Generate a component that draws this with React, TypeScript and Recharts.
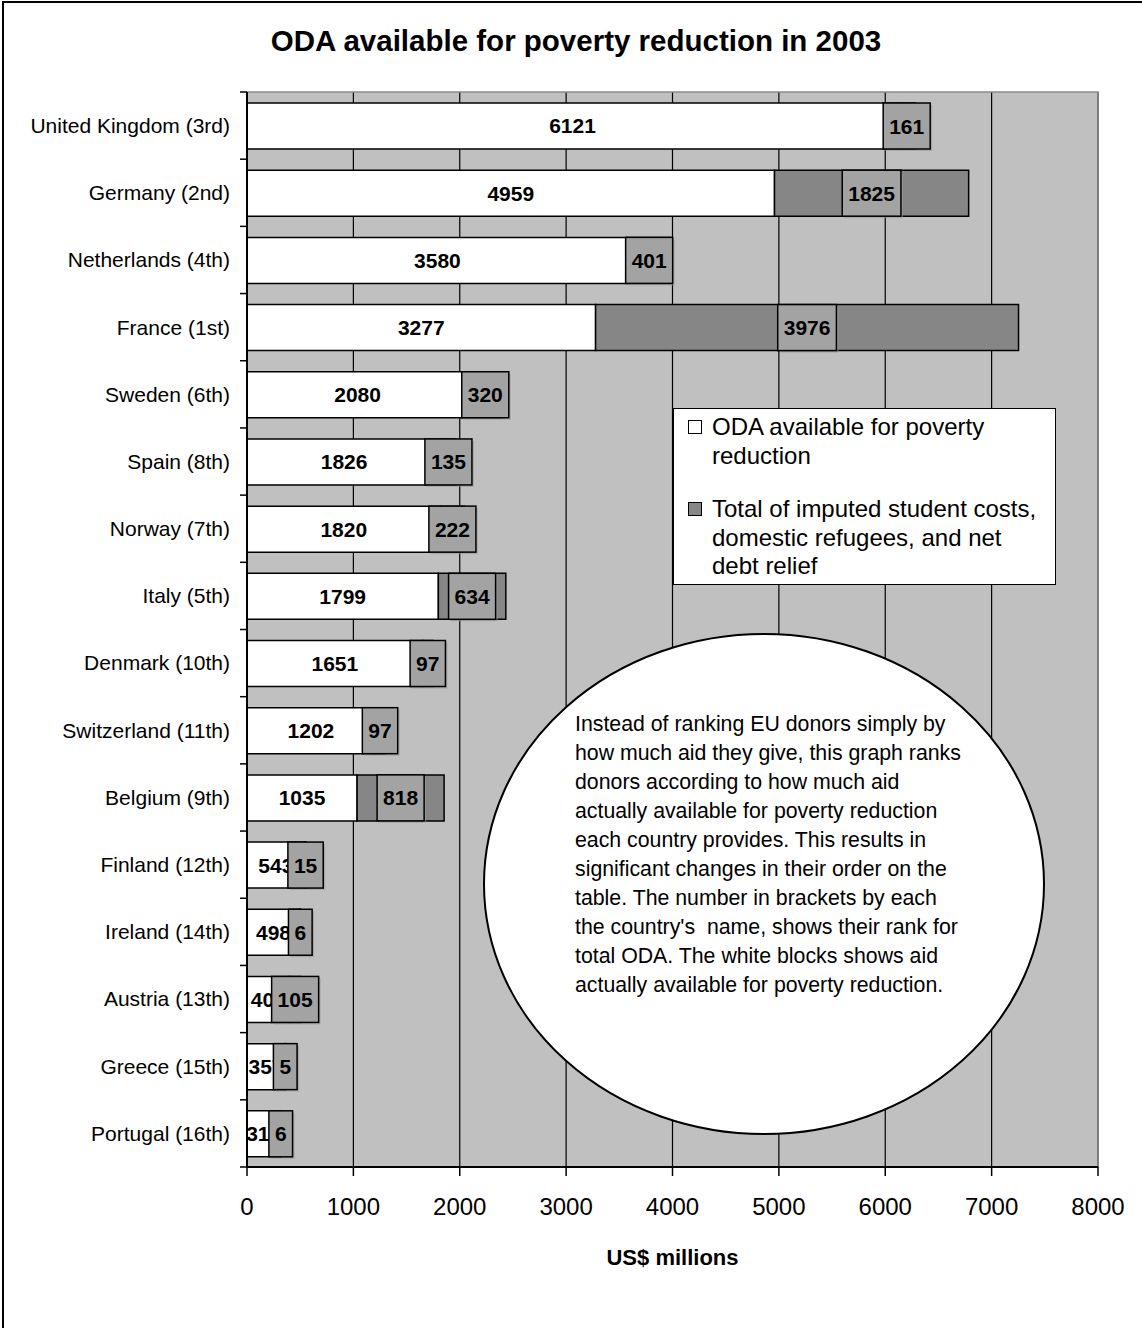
import React from 'react';
import { BarChart, Bar, XAxis, YAxis, CartesianGrid, LabelList, Legend, Customized } from 'recharts';

// donors, ordered by ODA actually available for poverty reduction (rank for total ODA in brackets)
const countries = [
  'United Kingdom (3rd)',
  'Germany (2nd)',
  'Netherlands (4th)',
  'France (1st)',
  'Sweden (6th)',
  'Spain (8th)',
  'Norway (7th)',
  'Italy (5th)',
  'Denmark (10th)',
  'Switzerland (11th)',
  'Belgium (9th)',
  'Finland (12th)',
  'Ireland (14th)',
  'Austria (13th)',
  'Greece (15th)',
  'Portugal (16th)',
];
const available = [6121, 4959, 3580, 3277, 2080, 1826, 1820, 1799, 1651, 1202, 1035, 543, 498, 400, 357, 314];
const inflated = [161, 1825, 401, 3976, 320, 135, 222, 634, 97, 97, 818, 15, 6, 105, 5, 6];
const xTicks = [0, 1000, 2000, 3000, 4000, 5000, 6000, 7000, 8000];

const seriesNames = [
  ['ODA available for poverty', 'reduction'],
  ['Total of imputed student costs,', 'domestic refugees, and net', 'debt relief'],
];

const noteLines = [
  'Instead of ranking EU donors simply by',
  'how much aid they give, this graph ranks',
  'donors according to how much aid',
  'actually available for poverty reduction',
  'each country provides. This results in',
  'significant changes in their order on the',
  'table. The number in brackets by each',
  "the country's  name, shows their rank for",
  'total ODA. The white blocks shows aid',
  'actually available for poverty reduction.',
];

const data = countries.map((c, i) => ({ country: c, available: available[i], other: inflated[i] }));

const W = 1142;
const H = 1328;
const PLOT_LEFT = 247;
const PLOT_RIGHT = 1098;
const PLOT_TOP = 92;
const PLOT_BOTTOM = 1167;
const BAND = (PLOT_BOTTOM - PLOT_TOP) / countries.length;
const FONT = '"Liberation Sans", Arial, sans-serif';
const GRAY = '#868686';
const BOX_GRAY = '#a3a3a3';

const CategoryTick = (props: any) => {
  const { x, y, payload, index } = props;
  const last = index === countries.length - 1;
  return (
    <g>
      <text x={x} y={y} dy="0.35em" textAnchor="end" fontSize={21} fill="#000" fontFamily={FONT}>
        {payload.value}
      </text>
      <line x1={PLOT_LEFT - 7} x2={PLOT_LEFT} y1={y - BAND / 2} y2={y - BAND / 2} stroke="#000" strokeWidth={1.5} />
      {last && (
        <line x1={PLOT_LEFT - 7} x2={PLOT_LEFT} y1={y + BAND / 2} y2={y + BAND / 2} stroke="#000" strokeWidth={1.5} />
      )}
    </g>
  );
};

// grey data labels sit in their own little boxes, wider than the small bars
const BoxLabel = (props: any) => {
  const vb = props.viewBox || props;
  const x = Number(vb.x);
  const y = Number(vb.y);
  const w = Number(vb.width);
  const h = Number(vb.height);
  const txt = String(props.value);
  const bw = txt.length * 0.556 * 21 + 12;
  const cx = x + w / 2;
  return (
    <g>
      <rect x={cx - bw / 2 + 2} y={y + 2} width={bw} height={h} fill="#9a9a9a" opacity={0.6} />
      <rect x={cx - bw / 2} y={y} width={bw} height={h} fill={BOX_GRAY} stroke="#000" strokeWidth={1.5} />
      <text
        x={cx}
        y={y + h / 2}
        dy="0.36em"
        textAnchor="middle"
        fontSize={21}
        fontWeight="bold"
        fill="#000"
        fontFamily={FONT}
      >
        {txt}
      </text>
    </g>
  );
};

const LegendBox = () => (
  <div
    style={{
      width: 383,
      height: 177,
      boxSizing: 'border-box',
      border: '1.5px solid #000',
      background: '#fff',
      fontFamily: FONT,
      fontSize: 24,
      lineHeight: '28.5px',
      color: '#000',
      paddingTop: 4,
    }}
  >
    {seriesNames.map((lines, i) => (
      <div key={i} style={{ position: 'relative', paddingLeft: 38, marginBottom: i === 0 ? 25 : 0 }}>
        <div
          style={{
            position: 'absolute',
            left: 14,
            top: 7,
            width: 12,
            height: 12,
            border: '1.5px solid #000',
            background: i === 0 ? '#fff' : GRAY,
          }}
        />
        {lines.map((l, j) => (
          <div key={j} style={{ whiteSpace: 'nowrap' }}>
            {l}
          </div>
        ))}
      </div>
    ))}
  </div>
);

const PlotFrame = () => (
  <rect
    x={PLOT_LEFT}
    y={PLOT_TOP}
    width={PLOT_RIGHT - PLOT_LEFT}
    height={PLOT_BOTTOM - PLOT_TOP}
    fill="none"
    stroke="#8a8a8a"
    strokeWidth={1.5}
  />
);

const Note = () => (
  <g>
    <text x={576} y={41} dy="0.35em" textAnchor="middle" fontSize={29.5} fontWeight="bold" fill="#000" fontFamily={FONT}>
      ODA available for poverty reduction in 2003
    </text>
    <ellipse cx={764} cy={884} rx={280} ry={250} fill="#fff" stroke="#000" strokeWidth={2} />
    <text x={575} y={724} fontSize={21.3} fill="#000" fontFamily={FONT}>
      {noteLines.map((l, i) => (
        <tspan key={i} x={575} y={724 + i * 29} dy="0.35em" style={{ whiteSpace: 'pre' }}>
          {l}
        </tspan>
      ))}
    </text>
  </g>
);

export default function App() {
  return (
    <div
      style={{
        position: 'absolute',
        left: 0,
        top: 0,
        width: W,
        height: H,
        background: '#fff',
        fontFamily: FONT,
        overflow: 'hidden',
      }}
    >
      <div
        style={{
          position: 'absolute',
          left: 2,
          top: 1,
          width: W,
          height: H + 10,
          borderTop: '2.5px solid #000',
          borderLeft: '2px solid #000',
          boxSizing: 'border-box',
        }}
      />
      <BarChart
        width={W}
        height={H}
        data={data}
        layout="vertical"
        margin={{ top: PLOT_TOP, right: W - PLOT_RIGHT, bottom: 61, left: 0 }}
        barSize={46}
      >
        <CartesianGrid horizontal={false} stroke="#000" strokeWidth={1.2} fill="#c0c0c0" fillOpacity={1} />
        <Customized component={PlotFrame} />
        <XAxis
          type="number"
          domain={[0, 8000]}
          ticks={xTicks}
          interval={0}
          height={100}
          tickSize={9}
          tickMargin={22}
          axisLine={{ stroke: '#000', strokeWidth: 2 }}
          tickLine={{ stroke: '#000', strokeWidth: 1.5 }}
          tick={{ fill: '#000', fontSize: 24, fontFamily: FONT }}
          label={{
            value: 'US$ millions',
            position: 'insideBottom',
            offset: 2,
            fill: '#000',
            fontSize: 22,
            fontWeight: 'bold',
            fontFamily: FONT,
          }}
        />
        <YAxis
          type="category"
          dataKey="country"
          width={PLOT_LEFT}
          interval={0}
          tickSize={6}
          tickMargin={11}
          tickLine={false}
          axisLine={{ stroke: '#000', strokeWidth: 2 }}
          tick={<CategoryTick />}
        />
        <Bar dataKey="available" stackId="oda" fill="#fff" stroke="#000" strokeWidth={1.5} isAnimationActive={false}>
          <LabelList
            dataKey="available"
            position="center"
            fill="#000"
            fontSize={21}
            fontWeight="bold"
            fontFamily={FONT}
          />
        </Bar>
        <Bar dataKey="other" stackId="oda" fill={GRAY} stroke="#000" strokeWidth={1.5} isAnimationActive={false}>
          <LabelList dataKey="other" content={<BoxLabel />} />
        </Bar>
        <Customized component={Note} />
        <Legend
          layout="vertical"
          align="center"
          verticalAlign="middle"
          content={() => <LegendBox />}
          wrapperStyle={{ left: 673, top: 408, width: 383, height: 177 }}
        />
      </BarChart>
    </div>
  );
}
